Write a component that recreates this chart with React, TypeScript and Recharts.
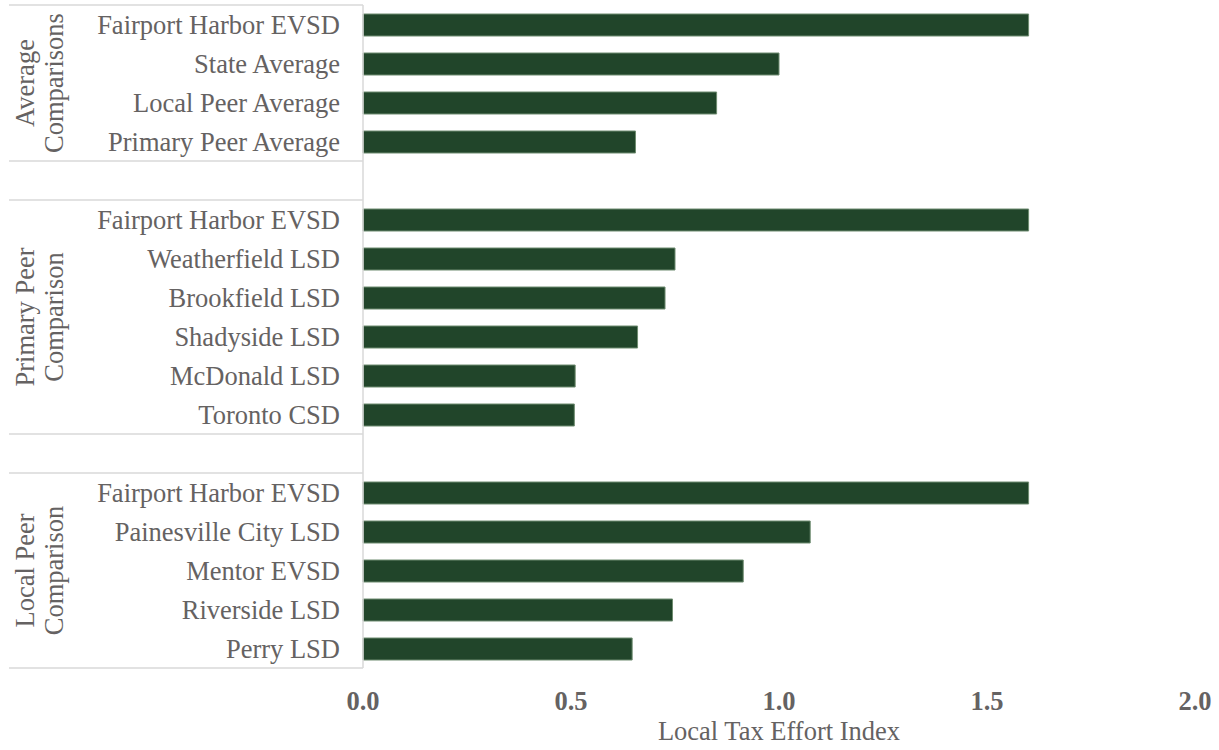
import { Bar, BarChart, Label, XAxis, YAxis } from "recharts";

// group headers (two lines each, drawn rotated on the left)
const groupTitles = [
  ["Average", "Comparisons"],
  ["Primary Peer", "Comparison"],
  ["Local Peer", "Comparison"],
];

const averageNames = ["Fairport Harbor EVSD", "State Average", "Local Peer Average", "Primary Peer Average"];
const averageValues = [1.6, 1.0, 0.85, 0.655];

const primaryNames = [
  "Fairport Harbor EVSD",
  "Weatherfield LSD",
  "Brookfield LSD",
  "Shadyside LSD",
  "McDonald LSD",
  "Toronto CSD",
];
const primaryValues = [1.6, 0.75, 0.726, 0.66, 0.51, 0.508];

const localNames = ["Fairport Harbor EVSD", "Painesville City LSD", "Mentor EVSD", "Riverside LSD", "Perry LSD"];
const localValues = [1.6, 1.075, 0.914, 0.744, 0.647];

const xTicks = [0, 0.5, 1, 1.5, 2];

const FONT = "'Liberation Serif', 'Times New Roman', serif";
const FS = 26.5;
const TEXT = "#656262";
const BAR = "#21452a";
const RULE = "#d9d9d9";

const W = 1219;
const H = 750;
const MARGIN = { top: 5, right: 24, left: 0, bottom: 0 };
const X_AXIS_H = 82;
const Y_AXIS_W = 363;

interface Row {
  id: string;
  label: string;
  value: number | null;
  segStart: boolean;
  segRows: number;
  title?: string[];
  last: boolean;
}

function buildRows(): Row[] {
  const groups = [
    { names: averageNames, values: averageValues },
    { names: primaryNames, values: primaryValues },
    { names: localNames, values: localValues },
  ];
  const rows: Row[] = [];
  groups.forEach((g, gi) => {
    if (gi > 0) {
      rows.push({ id: `gap-${gi}`, label: "", value: null, segStart: true, segRows: 1, last: false });
    }
    g.names.forEach((name, i) => {
      rows.push({
        id: `${gi}-${i}`,
        label: name,
        value: g.values[i],
        segStart: i === 0,
        segRows: g.names.length,
        title: i === 0 ? groupTitles[gi] : undefined,
        last: false,
      });
    });
  });
  rows[rows.length - 1].last = true;
  return rows;
}

const rows = buildRows();
const band = (H - MARGIN.top - MARGIN.bottom - X_AXIS_H) / rows.length;

function CategoryTick(props: any) {
  const { x, y, payload } = props;
  const row = rows.find((r) => r.id === payload.value);
  if (!row) return null;
  const lineLeft = 9;
  const cy = y - band / 2 + (row.segRows * band) / 2;
  return (
    <g>
      {row.segStart && (
        <line x1={lineLeft} x2={x} y1={y - band / 2} y2={y - band / 2} stroke={RULE} strokeWidth={1.5} />
      )}
      {row.last && (
        <line x1={lineLeft} x2={x} y1={y + band / 2} y2={y + band / 2} stroke={RULE} strokeWidth={1.5} />
      )}
      {row.label && (
        <text x={x - 23} y={y + 9} textAnchor="end" fontFamily={FONT} fontSize={FS} fill={TEXT}>
          {row.label}
        </text>
      )}
      {row.title && (
        <text
          transform={`rotate(-90, 48.5, ${cy})`}
          x={48.5}
          y={cy}
          textAnchor="middle"
          fontFamily={FONT}
          fontSize={FS}
          fill={TEXT}
        >
          <tspan x={48.5} dy={-14.5}>
            {row.title[0]}
          </tspan>
          <tspan x={48.5} dy={29}>
            {row.title[1]}
          </tspan>
        </text>
      )}
    </g>
  );
}

function ValueTick(props: any) {
  const { x, y, payload } = props;
  return (
    <text x={x} y={y + 42} textAnchor="middle" fontFamily={FONT} fontSize={FS} fontWeight="bold" fill={TEXT}>
      {Number(payload.value).toFixed(1)}
    </text>
  );
}

export default function App() {
  return (
    <div style={{ position: "absolute", left: 0, top: 0, width: W, height: H, background: "#fff" }}>
      <BarChart width={W} height={H} data={rows} layout="vertical" margin={MARGIN}>
        <XAxis
          type="number"
          domain={[0, 2]}
          ticks={xTicks}
          height={X_AXIS_H}
          axisLine={false}
          tickLine={false}
          tickSize={0}
          tickMargin={0}
          tick={<ValueTick />}
        >
          <Label
            value="Local Tax Effort Index"
            position="insideBottom"
            offset={10}
            style={{ fontFamily: FONT, fontSize: FS, fill: TEXT }}
          />
        </XAxis>
        <YAxis
          type="category"
          dataKey="id"
          width={Y_AXIS_W}
          interval={0}
          axisLine={{ stroke: RULE, strokeWidth: 1.5 }}
          tickLine={false}
          tickSize={0}
          tickMargin={0}
          tick={<CategoryTick />}
        />
        <Bar
          dataKey="value"
          fill={BAR}
          stroke="#6f8c70"
          strokeWidth={1}
          barSize={22}
          isAnimationActive={false}
        />
      </BarChart>
    </div>
  );
}
